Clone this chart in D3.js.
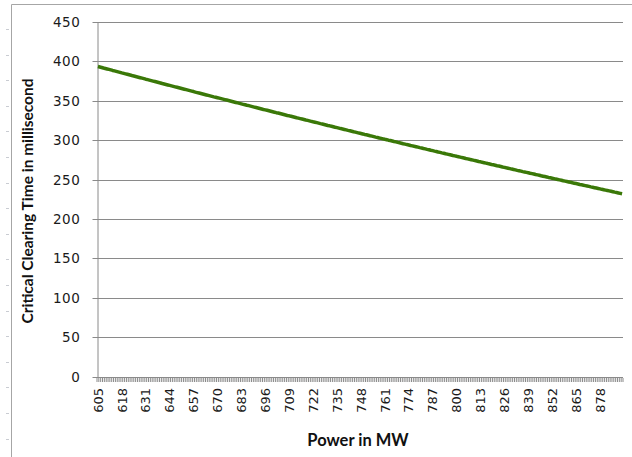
<!DOCTYPE html>
<html>
<head>
<meta charset="utf-8">
<script src="https://cdn.jsdelivr.net/npm/d3@7"></script>
<style>
  html, body { margin: 0; padding: 0; background: #fff; }
  svg { display: block; }
</style>
</head>
<body>
<svg id="chart" width="632" height="457"></svg>
<script>
// Power levels (MW), one category per megawatt
const powerStart = 605;
const powerEnd = 890;
const powers = d3.range(powerStart, powerEnd + 1);

// Critical clearing time (ms) for each power level above
const clearingTime = [
  393.5, 392.9, 392.3, 391.6, 391.0, 390.4, 389.8, 389.2, 388.5, 387.9,
  387.3, 386.7, 386.1, 385.4, 384.8, 384.2, 383.6, 383.0, 382.4, 381.7,
  381.1, 380.5, 379.9, 379.3, 378.7, 378.1, 377.4, 376.8, 376.2, 375.6,
  375.0, 374.4, 373.8, 373.2, 372.6, 371.9, 371.3, 370.7, 370.1, 369.5,
  368.9, 368.3, 367.7, 367.1, 366.5, 365.9, 365.3, 364.7, 364.1, 363.5,
  362.9, 362.3, 361.7, 361.0, 360.4, 359.8, 359.2, 358.6, 358.0, 357.4,
  356.8, 356.2, 355.6, 355.0, 354.5, 353.9, 353.3, 352.7, 352.1, 351.5,
  350.9, 350.3, 349.7, 349.1, 348.5, 347.9, 347.3, 346.7, 346.1, 345.5,
  344.9, 344.3, 343.8, 343.2, 342.6, 342.0, 341.4, 340.8, 340.2, 339.6,
  339.0, 338.5, 337.9, 337.3, 336.7, 336.1, 335.5, 334.9, 334.4, 333.8,
  333.2, 332.6, 332.0, 331.4, 330.9, 330.3, 329.7, 329.1, 328.5, 328.0,
  327.4, 326.8, 326.2, 325.6, 325.1, 324.5, 323.9, 323.3, 322.8, 322.2,
  321.6, 321.0, 320.5, 319.9, 319.3, 318.7, 318.2, 317.6, 317.0, 316.4,
  315.9, 315.3, 314.7, 314.2, 313.6, 313.0, 312.4, 311.9, 311.3, 310.7,
  310.2, 309.6, 309.0, 308.5, 307.9, 307.3, 306.8, 306.2, 305.6, 305.1,
  304.5, 303.9, 303.4, 302.8, 302.3, 301.7, 301.1, 300.6, 300.0, 299.5,
  298.9, 298.3, 297.8, 297.2, 296.7, 296.1, 295.5, 295.0, 294.4, 293.9,
  293.3, 292.8, 292.2, 291.7, 291.1, 290.5, 290.0, 289.4, 288.9, 288.3,
  287.8, 287.2, 286.7, 286.1, 285.6, 285.0, 284.5, 283.9, 283.4, 282.8,
  282.3, 281.7, 281.2, 280.6, 280.1, 279.5, 279.0, 278.5, 277.9, 277.4,
  276.8, 276.3, 275.7, 275.2, 274.7, 274.1, 273.6, 273.0, 272.5, 271.9,
  271.4, 270.9, 270.3, 269.8, 269.2, 268.7, 268.2, 267.6, 267.1, 266.6,
  266.0, 265.5, 264.9, 264.4, 263.9, 263.3, 262.8, 262.3, 261.7, 261.2,
  260.7, 260.1, 259.6, 259.1, 258.6, 258.0, 257.5, 257.0, 256.4, 255.9,
  255.4, 254.8, 254.3, 253.8, 253.3, 252.7, 252.2, 251.7, 251.2, 250.6,
  250.1, 249.6, 249.1, 248.5, 248.0, 247.5, 247.0, 246.5, 245.9, 245.4,
  244.9, 244.4, 243.8, 243.3, 242.8, 242.3, 241.8, 241.3, 240.7, 240.2,
  239.7, 239.2, 238.7, 238.2, 237.6, 237.1, 236.6, 236.1, 235.6, 235.1,
  234.6, 234.0, 233.5, 233.0, 232.5, 232.0
];

// Category labels shown on the horizontal axis
const powerLabels = [605, 618, 631, 644, 657, 670, 683, 696, 709, 722, 735,
  748, 761, 774, 787, 800, 813, 826, 839, 852, 865, 878];

// Value axis ticks
const timeTicks = [0, 50, 100, 150, 200, 250, 300, 350, 400, 450];

const svg = d3.select("#chart");
const W = 632, H = 457;
const plot = { left: 97, right: 623, top: 22, bottom: 376.5 };

const gridColor = "#8a8a8a";
const tickFont = "'DejaVu Sans', Verdana, sans-serif";
const titleFont = "Lato, 'Open Sans', sans-serif";

// outer frame of the chart object
svg.append("path")
  .attr("d", `M11.5,${H} V4.5 H${W}`)
  .attr("fill", "none")
  .attr("stroke", "#a6a6a6")
  .attr("stroke-width", 1);

// faint marks to the left of the frame
svg.append("g")
  .selectAll("line")
  .data(d3.range(29, H, 25.6))
  .join("line")
  .attr("x1", 6).attr("x2", 9)
  .attr("y1", d => Math.round(d) + 0.5).attr("y2", d => Math.round(d) + 0.5)
  .attr("stroke", "#c9ccd2").attr("stroke-width", 1);

const x = d3.scaleBand()
  .domain(powers)
  .range([plot.left, plot.right])
  .paddingInner(0).paddingOuter(0);

const y = d3.scaleLinear()
  .domain([0, 450])
  .range([plot.bottom, plot.top]);

// horizontal gridlines
svg.append("g")
  .selectAll("line")
  .data(timeTicks.filter(d => d > 0))
  .join("line")
  .attr("x1", plot.left).attr("x2", plot.right)
  .attr("y1", d => Math.round(y(d)) + 0.5).attr("y2", d => Math.round(y(d)) + 0.5)
  .attr("stroke", gridColor).attr("stroke-width", 1);

// value axis
const yAxis = d3.axisLeft(y)
  .tickValues(timeTicks)
  .tickSize(5)
  .tickPadding(12)
  .tickSizeOuter(0);

const gy = svg.append("g")
  .attr("transform", `translate(${plot.left + 0.5},0)`)
  .call(yAxis);
gy.select(".domain").attr("stroke", gridColor);
gy.selectAll(".tick line").attr("stroke", gridColor);
gy.selectAll(".tick text")
  .attr("font-family", tickFont)
  .attr("font-size", 13.5)
  .attr("letter-spacing", 0.6)
  .attr("fill", "#1a1a1a");
gy.selectAll(".tick").attr("transform", d => `translate(0,${Math.round(y(d)) + 0.5})`);

// category axis: a tick between every category
const boundaries = d3.range(powers.length + 1).map(i => plot.left + i * x.step());
const gx = svg.append("g");
gx.append("line")
  .attr("x1", plot.left).attr("x2", plot.right)
  .attr("y1", Math.round(y(0)) + 0.5).attr("y2", Math.round(y(0)) + 0.5)
  .attr("stroke", gridColor);
gx.selectAll("line.tick")
  .data(boundaries)
  .join("line")
  .attr("class", "tick")
  .attr("x1", d => d).attr("x2", d => d)
  .attr("y1", Math.round(y(0)) + 1).attr("y2", Math.round(y(0)) + 5)
  .attr("stroke", "#8a8a8a").attr("stroke-width", 1);

gx.selectAll("text")
  .data(powerLabels)
  .join("text")
  .attr("transform", d => `translate(${x(d) + x.bandwidth() / 2},388) rotate(-90)`)
  .attr("text-anchor", "end")
  .attr("dy", "0.36em")
  .attr("font-family", tickFont)
  .attr("font-size", 13)
  .attr("fill", "#1a1a1a")
  .text(d => d);

// clearing time curve
const line = d3.line()
  .x((d, i) => x(powers[i]) + x.bandwidth() / 2)
  .y(d => y(d));

svg.append("path")
  .datum(clearingTime)
  .attr("d", line)
  .attr("fill", "none")
  .attr("stroke", "#3a7808")
  .attr("stroke-width", 3.5)
  .attr("stroke-linejoin", "round");

// axis titles
svg.append("text")
  .attr("transform", "translate(33,201) rotate(-90)")
  .attr("text-anchor", "middle")
  .attr("font-family", titleFont)
  .attr("font-weight", "bold")
  .attr("font-size", 15.5)
  .attr("fill", "#111")
  .text("Critical Clearing Time in millisecond");

svg.append("text")
  .attr("x", 358)
  .attr("y", 446)
  .attr("text-anchor", "middle")
  .attr("font-family", titleFont)
  .attr("font-weight", "bold")
  .attr("font-size", 16.5)
  .attr("fill", "#111")
  .text("Power in MW");
</script>
</body>
</html>
